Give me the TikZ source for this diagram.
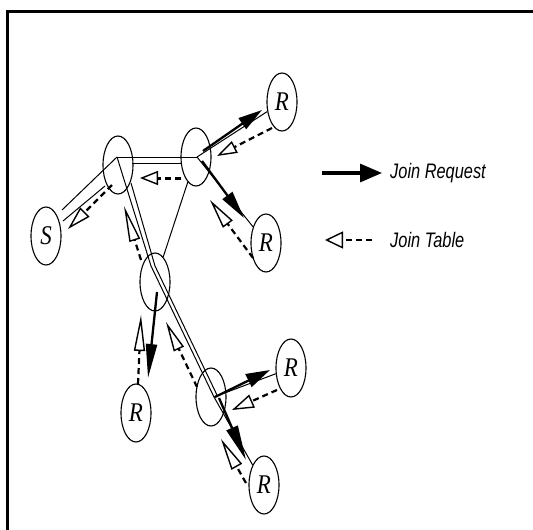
\documentclass[tikz,border=0pt]{standalone}
\usepackage{fontspec}
\setmainfont{Liberation Serif}
\newfontfamily\legendfont{Liberation Sans}
\usetikzlibrary{arrows.meta,calc,shapes.geometric}
\pgfdeclarelayer{bg}
\pgfsetlayers{bg,main}
\tikzset{
  stn/.style={draw, ellipse, line width=1.1pt, minimum width=30pt, minimum height=58pt,
              inner sep=0pt, font=\fontsize{27}{27}\selectfont\itshape},
  link/.style={line width=1pt},
  req/.style 2 args={line width=2.3pt, -{Triangle[length=#1pt,width=#2pt]}},
  tbl/.style 2 args={line width=2.2pt, dash pattern=on 6pt off 4pt,
              -{Triangle[open,length=#1pt,width=#2pt,line width=1.4pt]}},
  legtext/.style={anchor=west, inner sep=0pt, font=\legendfont\itshape\fontsize{21}{21}\selectfont}
}
\newcommand{\lab}[1]{\scalebox{0.85}[1]{#1}}
\begin{document}
\begin{tikzpicture}[x=1pt,y=-1pt]
\useasboundingbox (0,0) rectangle (533,530);
% outer frame
\draw[line width=2.6pt] (7.5,540) -- (7.5,11.3) -- (540,11.3);

% stations
\node[stn] (S)  at (46,236)  {\lab{S}};
\node[stn] (A)  at (118,165) {};
\node[stn] (B)  at (196,157) {};
\node[stn] (R1) at (282,102) {\lab{R}};
\node[stn] (R2) at (266,243) {\lab{R}};
\node[stn] (C)  at (155,282) {};
\node[stn] (R3) at (136,413) {\lab{R}};
\node[stn] (D)  at (211,397) {};
\node[stn] (R4) at (291,368) {\lab{R}};
\node[stn] (R5) at (264,485) {\lab{R}};

% branching points inside the routers
\coordinate (hA) at (117,157);
\coordinate (hB) at (197,157);
\coordinate (hC) at (151,266);
\coordinate (hD) at (214,397);

\begin{pgfonlayer}{bg}
% tree links
\draw[link] (hA) -- ($(S)+(16,-26)$);
\draw[link] ($(A)+(-13,21)$) -- ($(S)+(17,-15)$);
\draw[link] (hA) -- (hB);
\draw[link] ($(A)+(14,-2)$) -- ($(B)+(-14,6)$);
\draw[link] (hA) -- (hC) -- (hD);
\draw[link] ($(hA)+(14,26)$) -- ($(hC)+(4,0)$) -- ($(hD)+(3,-2)$);
\draw[link] (hB) -- (R1);
\draw[link] (hB) -- (R2);
\draw[link] (hD) -- (R4);
\draw[link] (hD) -- (R5);
\draw[link] (B) -- (C);

% join requests
\draw[req={24}{13}] ($(hB)+(6,-6)$) -- ($(R1)+(-20,8)$);
\draw[req={28}{12}] ($(hB)+(5,4)$)  -- ($(R2)+(-22,-25)$);
\draw[req={34}{11}] ($(C)+(2,10)$)  -- ($(R3)+(12,-35)$);
\draw[req={24}{14}] ($(hD)+(1,0)$)  -- ($(R4)+(-21,2)$);
\draw[req={35}{12}] ($(hD)+(5,1)$)  -- ($(R5)+(-18,-25)$);

% join tables
\draw[tbl={24}{13}] ($(A)+(-6,20)$)  -- ($(S)+(22,-7)$);
\draw[tbl={18}{14}, line width=3pt] ($(B)+(-15,21)$) -- ($(A)+(22,13)$);
\draw[tbl={36}{11}] ($(C)+(-14,-22)$) -- ($(A)+(6,41)$);
\draw[tbl={20}{13}] ($(R1)+(-10,26)$) -- ($(hB)+(20,-1)$);
\draw[tbl={30}{12}] ($(R2)+(-13,15)$) -- ($(hB)+(13,43)$);
\draw[tbl={36}{11}] ($(R3)+(2,-29)$)  -- ($(C)+(-14,33)$);
\draw[tbl={30}{11}] ($(D)+(-14,-10)$) -- ($(C)+(11,40)$);
\draw[tbl={22}{14}] ($(R4)+(-14,22)$) -- ($(hD)+(18,13)$);
\draw[tbl={32}{12}] ($(R5)+(-18,-2)$) -- ($(hD)+(7,42)$);
\end{pgfonlayer}

% legend
\node[legtext] (jr) at (390,173) {\scalebox{0.78}[1]{Join Request}};
\node[legtext] (jt) at (390,240) {\scalebox{0.78}[1]{Join Table}};
\draw[req={22}{18}, line width=3.2pt] ($(jr.west)+(-68,0)$) -- ($(jr.west)+(-8,0)$);
\draw[tbl={18}{17}, line width=2.8pt] ($(jt.west)+(-18,0)$) -- ($(jt.west)+(-65,0)$);
\end{tikzpicture}
\end{document}
